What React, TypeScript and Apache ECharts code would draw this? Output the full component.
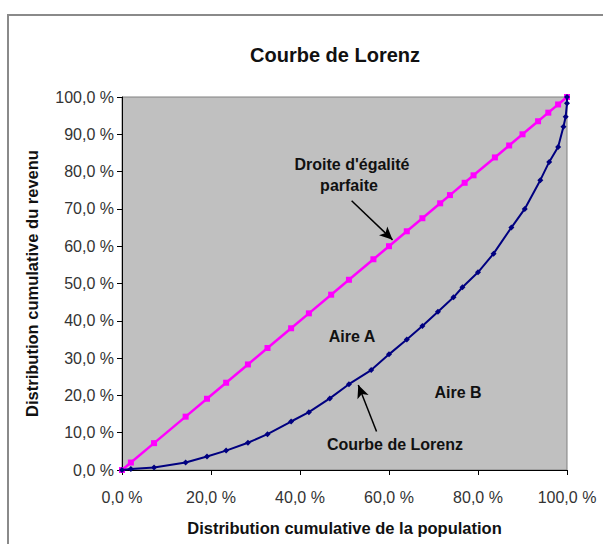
import React, { useEffect, useRef } from "react";
import * as echarts from "echarts";

// Cumulative population share (%) at each point of the perfect-equality line
const equalityPoints: number[] = [0, 2, 7.2, 14.3, 19.1, 23.4, 28.3, 32.7, 38, 42, 47, 51, 56.5, 60, 64, 67.5, 71.5, 73.7, 77, 79, 83.8, 87, 90, 93.5, 95.8, 98, 100];

// Lorenz curve: cumulative population share (%) and cumulative income share (%)
const lorenzPopulation: number[] = [0, 2, 7.2, 14.3, 19.1, 23.4, 28.3, 32.7, 38, 42, 46.7, 51, 56, 60, 64, 67.5, 71, 74.5, 76.5, 80, 83.5, 87.5, 90.5, 94, 96, 98, 99.2, 99.7, 100, 100];
const lorenzIncome: number[] = [0, 0.3, 0.7, 2, 3.6, 5.2, 7.3, 9.6, 13, 15.5, 19.2, 23, 26.8, 31, 35, 38.6, 42.4, 46.3, 49, 53, 58, 65, 70, 77.7, 82.6, 86.6, 92, 94.7, 98.3, 100];

const xTicks = { min: 0, max: 100, interval: 20 };
const yTicks = { min: 0, max: 100, interval: 10 };

const fmt = (v: number) => v.toFixed(1).replace(".", ",") + " %";

const FONT = '"Liberation Sans", Arial, sans-serif';

export default function App() {
  const ref = useRef<HTMLDivElement>(null);
  useEffect(() => {
    document.body.style.margin = "0";
    if (!ref.current) return;
    const chart = echarts.init(ref.current, undefined, { renderer: "svg" });
    const boldText = (text: string, x: number, y: number) => ({
      type: "text",
      x,
      y,
      silent: true,
      style: {
        text,
        font: `bold 16px ${FONT}`,
        fill: "#111",
        align: "center",
        verticalAlign: "middle",
        textAlign: "center",
        textVerticalAlign: "middle",
      },
    });
    chart.setOption({
      animation: false,
      backgroundColor: "#ffffff",
      title: {
        text: "Courbe de Lorenz",
        left: 330,
        top: 40,
        textAlign: "center",
        textStyle: { fontSize: 20, fontWeight: "bold", fontFamily: FONT, color: "#111" },
      },
      grid: {
        left: 122,
        right: 36,
        top: 97,
        bottom: 74,
        show: true,
        backgroundColor: "#C0C0C0",
        borderColor: "#808080",
        borderWidth: 1,
      },
      xAxis: {
        type: "value",
        min: xTicks.min,
        max: xTicks.max,
        interval: xTicks.interval,
        name: "Distribution cumulative de la population",
        nameLocation: "middle",
        nameGap: 49,
        nameTextStyle: { fontSize: 16.5, fontWeight: "bold", fontFamily: FONT, color: "#111", verticalAlign: "top" },
        axisLine: { show: true, lineStyle: { color: "#000", width: 1 } },
        axisTick: { show: true, length: 5, lineStyle: { color: "#000" } },
        axisLabel: { formatter: fmt, fontSize: 16, fontFamily: FONT, color: "#333", margin: 19 },
        splitLine: { show: false },
      },
      yAxis: {
        type: "value",
        min: yTicks.min,
        max: yTicks.max,
        interval: yTicks.interval,
        name: "Distribution cumulative du revenu",
        nameLocation: "middle",
        nameGap: 82,
        nameTextStyle: { fontSize: 16.5, fontWeight: "bold", fontFamily: FONT, color: "#111" },
        axisLine: { show: true, lineStyle: { color: "#000", width: 1 } },
        axisTick: { show: true, length: 5, lineStyle: { color: "#000" } },
        axisLabel: { formatter: fmt, fontSize: 16, fontFamily: FONT, color: "#333", margin: 8 },
        splitLine: { show: false },
      },
      series: [
        {
          name: "Droite d'égalité parfaite",
          type: "line",
          data: equalityPoints.map((p) => [p, p]),
          lineStyle: { color: "#FF00FF", width: 2.5 },
          itemStyle: { color: "#FF00FF" },
          symbol: "rect",
          symbolSize: 6,
          showSymbol: true,
          z: 3,
          markLine: {
            silent: true,
            symbol: ["none", "arrow"],
            symbolSize: [9, 13],
            label: { show: false },
            lineStyle: { color: "#000", width: 1.5, type: "solid" },
            data: [[{ coord: [51.6, 72.2] }, { coord: [60.8, 61.7] }]],
          },
        },
        {
          name: "Courbe de Lorenz",
          type: "line",
          data: lorenzPopulation.map((p, i) => [p, lorenzIncome[i]]),
          lineStyle: { color: "#000080", width: 2 },
          itemStyle: { color: "#000080" },
          symbol: "diamond",
          symbolSize: 6,
          showSymbol: true,
          z: 4,
          markLine: {
            silent: true,
            symbol: ["none", "arrow"],
            symbolSize: [9, 13],
            label: { show: false },
            lineStyle: { color: "#000", width: 1.5, type: "solid" },
            data: [[{ coord: [57.2, 10.3] }, { coord: [53.1, 22.8] }]],
          },
        },
      ],
      graphic: [
        {
          type: "line",
          shape: { x1: 8, y1: 15, x2: 603, y2: 15 },
          style: { stroke: "#8a8a8a", lineWidth: 2 },
          silent: true,
        },
        {
          type: "line",
          shape: { x1: 8, y1: 14, x2: 8, y2: 544 },
          style: { stroke: "#8a8a8a", lineWidth: 2 },
          silent: true,
        },
        boldText("Droite d'égalité", 352, 164),
        boldText("parfaite", 349, 185),
        boldText("Aire A", 352, 336),
        boldText("Aire B", 458, 392),
        boldText("Courbe de Lorenz", 395, 444),
      ],
    });
    return () => chart.dispose();
  }, []);
  return <div ref={ref} style={{ width: 603, height: 544 }} />;
}
